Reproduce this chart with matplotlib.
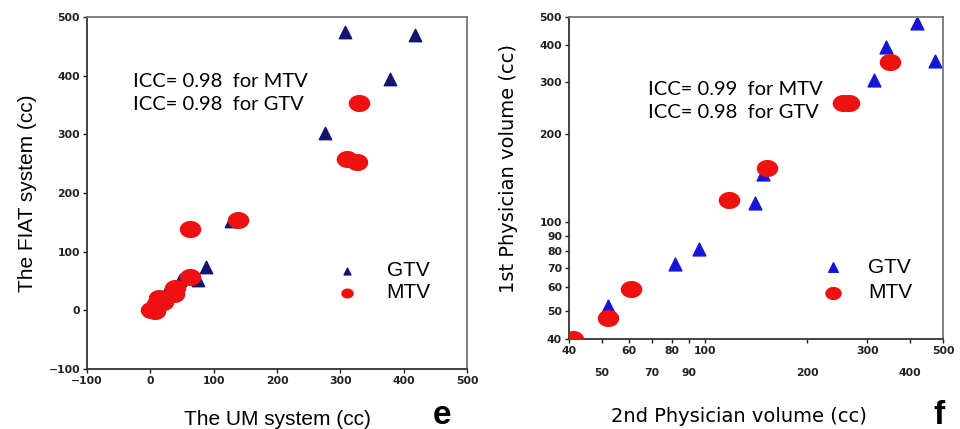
import numpy as np
import matplotlib.pyplot as plt
from matplotlib.path import Path
from matplotlib.ticker import FixedLocator, FixedFormatter, NullLocator

# panel e: UM system vs FIAT system (cc)
leftGtvX = [308, 418, 379, 275, 127, 88, 75, 47, 26, 10]
leftGtvY = [474, 470, 394, 303, 152, 73, 52, 51, 35, 12]
leftMtvX = [329, 311, 326, 139, 62, 62, 39, 37, 13, 11, 1, 8, 20]
leftMtvY = [353, 258, 252, 154, 138, 57, 38, 27, 21, 10, 1, -2, 15]
leftTicks = [-100, 0, 100, 200, 300, 400, 500]

# panel f: 2nd vs 1st physician volume (cc), log axes
rightGtvX = [420, 341, 473, 313, 148, 140, 96, 82, 52]
rightGtvY = [477, 394, 353, 304, 146, 116, 81, 72, 52]
rightMtvX = [350, 254, 265, 152, 118, 61, 52, 41]
rightMtvY = [350, 254, 255, 153, 119, 59, 47, 40]
logTicks = [40, 50, 60, 70, 80, 90, 100, 200, 300, 400, 500]
xRowOne = [40, 60, 80, 100, 300, 500]
xRowTwo = [50, 70, 90, 200, 400]

red = "#ee1111"
navy = "#14166e"
blue = "#1515d8"
labelFont = "Liberation Sans"
tickFont = "DejaVu Sans"
iccFont = "Lato"

# slightly flattened blob used for the MTV points
theta = np.linspace(0, 2 * np.pi, 40)
blob = Path(np.c_[np.cos(theta), 0.78 * np.sin(theta)], closed=True)


def styleAxes(ax):
    for side in ["top", "right"]:
        ax.spines[side].set_color("#777777")
        ax.spines[side].set_linewidth(1.3)
    for side in ["left", "bottom"]:
        ax.spines[side].set_color("#333333")
        ax.spines[side].set_linewidth(1.3)
    ax.tick_params(which="both", direction="out", length=3, width=1, colors="#222222", pad=2)
    labels = ax.get_xticklabels() + ax.get_yticklabels() + ax.get_xticklabels(minor=True)
    for lab in labels:
        lab.set_fontfamily(tickFont)
        lab.set_fontweight("bold")
        lab.set_fontsize(7.8)


fig = plt.figure(figsize=(9.6, 4.29), dpi=100)

# ---- panel e
ax1 = fig.add_axes([0.0906, 0.1399, 0.3959, 0.8205])
ax1.scatter(leftGtvX, leftGtvY, marker="^", s=80, color=navy, label="GTV", zorder=2)
ax1.scatter(leftMtvX, leftMtvY, marker=blob, s=210, color=red, label="MTV", zorder=3)
ax1.set_xlim(-100, 500)
ax1.set_ylim(-100, 500)
ax1.set_xticks(leftTicks)
ax1.set_yticks(leftTicks)
styleAxes(ax1)
ax1.set_xlabel("The UM system (cc)", fontsize=15, family=labelFont, labelpad=17)
ax1.set_ylabel("The FIAT system (cc)", fontsize=15, family=labelFont, labelpad=8)
ax1.text(0.12, 0.84, "ICC= 0.98  for MTV\nICC= 0.98  for GTV", transform=ax1.transAxes,
         fontsize=14.5, family=iccFont, va="top", linespacing=1.4)
ax1.legend(loc="upper left", bbox_to_anchor=(0.58, 0.36), frameon=False,
           markerscale=0.55, handletextpad=0.9, labelspacing=0.15,
           prop={"family": labelFont, "size": 15})
fig.text(0.451, 0.012, "e", fontsize=24, fontweight="bold", family=labelFont)

# ---- panel f
ax2 = fig.add_axes([0.5927, 0.2098, 0.3896, 0.7506])
ax2.scatter(rightGtvX, rightGtvY, marker="^", s=85, color=blue, label="GTV", zorder=2)
ax2.scatter(rightMtvX, rightMtvY, marker=blob, s=210, color=red, label="MTV", zorder=3)
ax2.set_xscale("log")
ax2.set_yscale("log")
ax2.set_xlim(40, 500)
ax2.set_ylim(40, 500)
# x tick labels sit in two staggered rows
ax2.xaxis.set_major_locator(FixedLocator(xRowOne))
ax2.xaxis.set_major_formatter(FixedFormatter([str(t) for t in xRowOne]))
ax2.xaxis.set_minor_locator(FixedLocator(xRowTwo))
ax2.xaxis.set_minor_formatter(FixedFormatter([str(t) for t in xRowTwo]))
ax2.yaxis.set_major_locator(FixedLocator(logTicks))
ax2.yaxis.set_major_formatter(FixedFormatter([str(t) for t in logTicks]))
ax2.yaxis.set_minor_locator(NullLocator())
styleAxes(ax2)
ax2.tick_params(axis="x", which="minor", pad=18)
ax2.set_xlabel("2nd Physician volume (cc)", fontsize=14, family=tickFont)
ax2.xaxis.set_label_coords(0.455, -0.21)
ax2.set_ylabel("1st Physician volume (cc)", fontsize=14, family=tickFont)
ax2.yaxis.set_label_coords(-0.135, 0.53)
ax2.text(0.21, 0.80, "ICC= 0.99  for MTV\nICC= 0.98  for GTV", transform=ax2.transAxes,
         fontsize=14.5, family=iccFont, va="top", linespacing=1.4)
ax2.legend(loc="upper left", bbox_to_anchor=(0.6, 0.31), frameon=False,
           markerscale=0.75, handletextpad=0.7, labelspacing=0.3,
           prop={"family": labelFont, "size": 15})
fig.text(0.972, 0.012, "f", fontsize=24, fontweight="bold", family=labelFont)

fig.savefig("out.png", dpi=100)
